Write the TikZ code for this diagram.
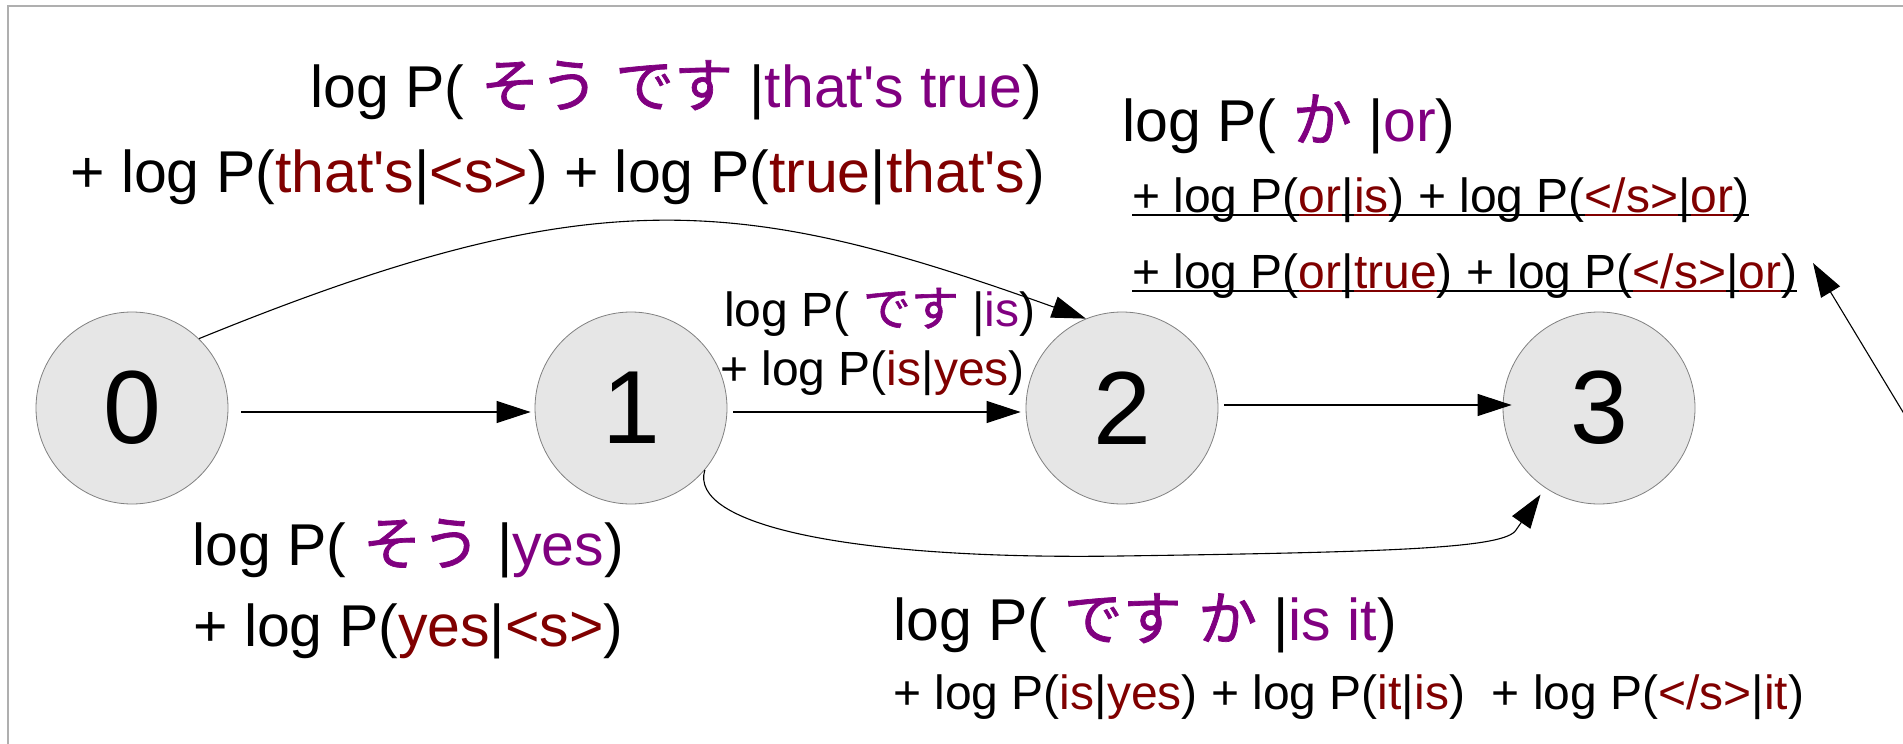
\documentclass[tikz,border=0pt]{standalone}
\usepackage{fontspec}
\setmainfont{Liberation Sans}[Ligatures=TeXOff]
\newfontfamily\jp{Noto Sans CJK JP}[FakeBold=1.2]
\usetikzlibrary{arrows.meta}
\definecolor{srcword}{RGB}{128,0,128}
\definecolor{lmword}{RGB}{128,0,0}
\definecolor{statefill}{RGB}{230,230,230}
\definecolor{framegray}{RGB}{175,175,175}
% source-side words (purple) and language-model words (dark red)
\newcommand\src[1]{\textcolor{srcword}{#1}}
\newcommand\lm[1]{\textcolor{lmword}{#1}}
\newcommand\ja[1]{\textcolor{srcword}{\jp #1}}
% underline a piece of text in the current colour, at a fixed depth
\newcommand\ulseg[1]{\setbox0\hbox{#1}\rlap{\rule[-4pt]{\wd0}{2pt}}\box0}
\newcommand\ullm[1]{{\color{lmword}\ulseg{#1}}}

\begin{document}
\begin{tikzpicture}[x=1pt,y=-1pt,
  state/.style={circle,draw=gray,line width=0.8pt,fill=statefill,
    minimum size=192pt,inner sep=0pt,font=\fontsize{104}{104}\selectfont},
  big/.style={anchor=base west,inner sep=0pt,font=\fontsize{59}{60}\selectfont},
  small/.style={anchor=base west,inner sep=0pt,font=\fontsize{48}{50}\selectfont},
  arc/.style={line width=1.1pt,-{Triangle[length=34pt,width=22pt]}}]

\useasboundingbox (0,0) rectangle (1903,744);
\draw[framegray,line width=1.5pt] (1910,6) -- (8,6) -- (8,750);

% lattice states
\node[state] (n0) at (132,408) {0};
\node[state] (n1) at (631,408) {1};
\node[state] (n2) at (1122,408) {2};
\node[state] (n3) at (1599,408) {3};

% edge scores
\node[big] (t1) at (310,107) {log P( \ja{そう} \ja{です} |\src{that's true})};
\node[big] (t2) at (70,192) {+ log P(\lm{that's}|\lm{<s>}) + log P(\lm{true}|\lm{that's})};
\node[big] (t3) at (1122,141) {log P( \ja{か} |\src{or})};
\node[small] (t4) at (1132,212) {\ulseg{+ log P(}\ullm{or}\ulseg{|}\ullm{is}\ulseg{) + log P(}\ullm{</s>}\ulseg{|}\ullm{or}\ulseg{)}};
\node[small] (t5) at (1132,288) {\ulseg{+ log P(}\ullm{or}\ulseg{|}\ullm{true}\ulseg{) + log P(}\ullm{</s>}\ulseg{|}\ullm{or}\ulseg{)}};
\node[small] (t6) at (724,326) {log P( \ja{です} |\src{is})};
\node[small] (t7) at (720,385) {+ log P(\lm{is}|\lm{yes})};
\node[big] (t8) at (192,565) {log P( \ja{そう} |\src{yes})};
\node[big] (t9) at (193,646) {+ log P(\lm{yes}|\lm{<s>})};
\node[big] (t10) at (893,640) {log P( \ja{です} \ja{か} |\src{is it})};
\node[small] (t11) at (893,709) {+ log P(\lm{is}|\lm{yes}) + log P(\lm{it}|\lm{is})~ + log P(\lm{</s>}|\lm{it})};

% transitions
\draw[arc] ([xshift=13pt,yshift=-4pt]n0.east) -- ([xshift=-4pt,yshift=-4pt]n1.west);
\draw[arc] ([xshift=6pt,yshift=-4pt]n1.east) -- ([xshift=-5pt,yshift=-4pt]n2.west);
\draw[arc] ([xshift=6pt,yshift=3pt]n2.east) -- ([xshift=9pt,yshift=3pt]n3.west);
\draw[arc] (n0.46) .. controls (593,178) and (739,194) .. (n2.112);
\draw[arc,shorten >=8pt] (n1.-40) .. controls (688,525) and (850,560) .. (1120,556)
  .. controls (1400,552) and (1505,548) .. (1516,530) -- (n3.-124);
\coordinate (feed) at (1912,427);
\coordinate (feedtip) at (1813,263);
\draw[arc] (feed) -- (feedtip);
\end{tikzpicture}
\end{document}
